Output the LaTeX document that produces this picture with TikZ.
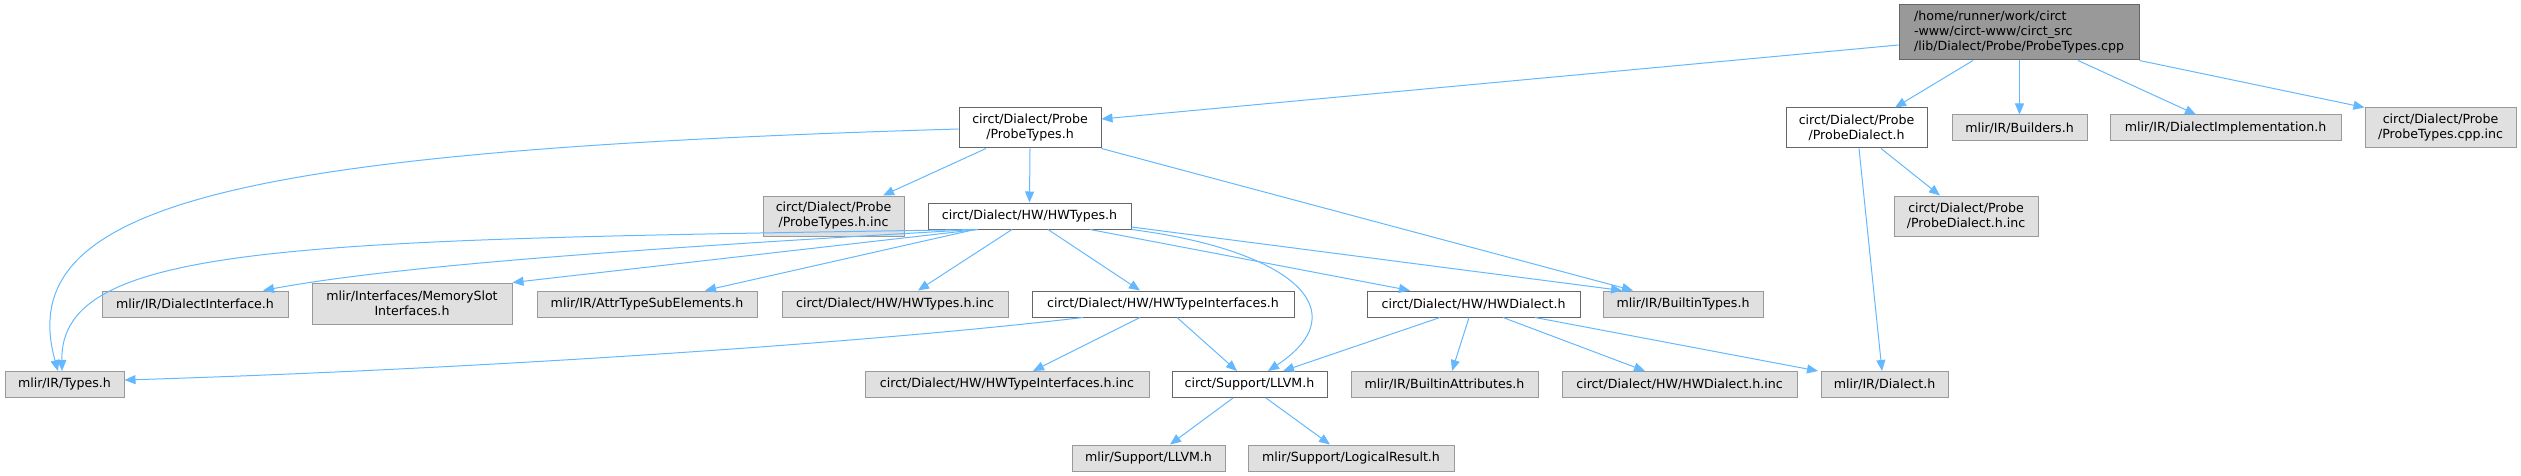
\documentclass[tikz,border=0pt]{standalone}
\usepackage{fontspec}
\usepackage{tikz}
\usetikzlibrary{arrows.meta}
\newfontfamily\doxfont{DejaVu Sans}
\definecolor{edgeblue}{HTML}{63B8FF}
\definecolor{boxgray}{HTML}{E0E0E0}
\definecolor{bordergray}{HTML}{999999}
\definecolor{borderdark}{HTML}{666666}
\definecolor{rootgray}{HTML}{999999}

\begin{document}
\begin{tikzpicture}[x=1pt, y=-1pt,
  box/.style={rectangle, draw, line width=1pt, inner sep=0pt, align=center,
    font={\doxfont\fontsize{12.6}{15}\selectfont}},
  incbox/.style={box, fill=boxgray, draw=bordergray},
  hdrbox/.style={box, fill=white, draw=borderdark},
  rootbox/.style={box, fill=rootgray, draw=borderdark, align=left},
  edge/.style={draw=edgeblue, line width=1pt, -{Triangle[length=11pt,width=9pt]}, edgeblue}]

\useasboundingbox (0,0) rectangle (2521,476);

% top row
\node[rootbox, minimum width=240, minimum height=55] (root) at (2019,32.5)
  {/home/runner/work/circt\\-www/circt-www/circt\_src\\/lib/Dialect/Probe/ProbeTypes.cpp};

% second row
\node[hdrbox, minimum width=142, minimum height=40] (ptypes) at (1030,128) {circt/Dialect/Probe\\/ProbeTypes.h};
\node[hdrbox, minimum width=141, minimum height=40] (pdialect) at (1856.5,128) {circt/Dialect/Probe\\/ProbeDialect.h};
\node[incbox, minimum width=135, minimum height=26] (builders) at (2019.5,128) {mlir/IR/Builders.h};
\node[incbox, minimum width=231, minimum height=26] (dimpl) at (2225.5,128) {mlir/IR/DialectImplementation.h};
\node[incbox, minimum width=151, minimum height=40] (cppinc) at (2440.5,128) {circt/Dialect/Probe\\/ProbeTypes.cpp.inc};

% third row
\node[incbox, minimum width=141, minimum height=40] (ptinc) at (833.5,216) {circt/Dialect/Probe\\/ProbeTypes.h.inc};
\node[hdrbox, minimum width=203, minimum height=26] (hwtypes) at (1029.5,216) {circt/Dialect/HW/HWTypes.h};
\node[incbox, minimum width=144, minimum height=40] (pdinc) at (1966,216) {circt/Dialect/Probe\\/ProbeDialect.h.inc};

% fourth row
\node[incbox, minimum width=186, minimum height=26] (dinterface) at (195,304) {mlir/IR/DialectInterface.h};
\node[incbox, minimum width=200, minimum height=41] (memslot) at (412,303.5) {mlir/Interfaces/MemorySlot\\Interfaces.h};
\node[incbox, minimum width=220, minimum height=26] (attrsub) at (647,304) {mlir/IR/AttrTypeSubElements.h};
\node[incbox, minimum width=226, minimum height=26] (hwtinc) at (895,304) {circt/Dialect/HW/HWTypes.h.inc};
\node[hdrbox, minimum width=262, minimum height=26] (hwtif) at (1163,304) {circt/Dialect/HW/HWTypeInterfaces.h};
\node[hdrbox, minimum width=213, minimum height=26] (hwdialect) at (1473.5,304) {circt/Dialect/HW/HWDialect.h};
\node[incbox, minimum width=160, minimum height=26] (btypes) at (1683,304) {mlir/IR/BuiltinTypes.h};

% fifth row
\node[incbox, minimum width=119, minimum height=26] (types) at (64.5,384.5) {mlir/IR/Types.h};
\node[incbox, minimum width=284, minimum height=26] (hwtifinc) at (1007,384.5) {circt/Dialect/HW/HWTypeInterfaces.h.inc};
\node[hdrbox, minimum width=155, minimum height=26] (llvm) at (1249.5,384.5) {circt/Support/LLVM.h};
\node[incbox, minimum width=187, minimum height=26] (battrs) at (1444.5,384.5) {mlir/IR/BuiltinAttributes.h};
\node[incbox, minimum width=235, minimum height=26] (hwdinc) at (1679.5,384.5) {circt/Dialect/HW/HWDialect.h.inc};
\node[incbox, minimum width=127, minimum height=26] (dialect) at (1884.5,384.5) {mlir/IR/Dialect.h};

% bottom row
\node[incbox, minimum width=153, minimum height=26] (mllvm) at (1148.5,458) {mlir/Support/LLVM.h};
\node[incbox, minimum width=206, minimum height=26] (logres) at (1351,458) {mlir/Support/LogicalResult.h};

% includes of the source file
\draw[edge] (root.west |- 0,45) -- (ptypes.east |- 0,119);
\draw[edge] (root.south -| 1973,0) -- (pdialect.north -| 1895,0);
\draw[edge] (root.south -| builders.north) -- (builders.north);
\draw[edge] (root.south -| 2078,0) -- (dimpl.north -| 2196,0);
\draw[edge] (root.south east) -- (cppinc.north west);

% ProbeTypes.h
\draw[edge] (ptypes.west |- 0,129) .. controls (250,150) and (10,200) .. (types.north -| 58,0);
\draw[edge] (ptypes.south -| 986,0) -- (ptinc.north -| 883,0);
\draw[edge] (ptypes.south) -- (hwtypes.north);
\draw[edge] (ptypes.south east) -- (btypes.north -| 1633,0);

% ProbeDialect.h
\draw[edge] (pdialect.south -| 1881,0) -- (pdinc.north -| 1940,0);
\draw[edge] (pdialect.south -| 1859,0) -- (dialect.north -| 1882,0);

% HWTypes.h
\draw[edge] (hwtypes.south -| 978,0) .. controls (300,240) and (60,242) .. (types.north -| 62,0);
\draw[edge] (hwtypes.south -| 975,0) .. controls (650,248) and (400,265) .. (dinterface.north -| 263,0);
\draw[edge] (hwtypes.south -| 978,0) -- (memslot.north east);
\draw[edge] (hwtypes.south -| 975,0) -- (attrsub.north -| 705,0);
\draw[edge] (hwtypes.south -| 1012,0) -- (hwtinc.north -| 918,0);
\draw[edge] (hwtypes.south -| 1048,0) -- (hwtif.north -| 1140,0);
\draw[edge] (hwtypes.south east) .. controls (1290,250) and (1360,310) .. (llvm.north -| 1268,0);
\draw[edge] (hwtypes.south -| 1090,0) -- (hwdialect.north -| 1410,0);
\draw[edge] (hwtypes.east |- 0,227) -- (btypes.north -| 1622,0);

% HWTypeInterfaces.h
\draw[edge] (hwtif.south -| 1083,0) .. controls (850,345) and (450,370) .. (types.east |- 0,380);
\draw[edge] (hwtif.south -| 1140,0) -- (hwtifinc.north -| 1033,0);
\draw[edge] (hwtif.south -| 1177,0) -- (llvm.north -| 1237,0);

% HWDialect.h
\draw[edge] (hwdialect.south -| 1440,0) -- (llvm.north -| 1283,0);
\draw[edge] (hwdialect.south -| 1469,0) -- (battrs.north -| 1452,0);
\draw[edge] (hwdialect.south -| 1503,0) -- (hwdinc.north -| 1645,0);
\draw[edge] (hwdialect.south -| 1535,0) -- (dialect.north -| 1818,0);

% LLVM.h
\draw[edge] (llvm.south -| 1233,0) -- (mllvm.north -| 1170,0);
\draw[edge] (llvm.south -| 1266,0) -- (logres.north -| 1330,0);

\end{tikzpicture}
\end{document}
